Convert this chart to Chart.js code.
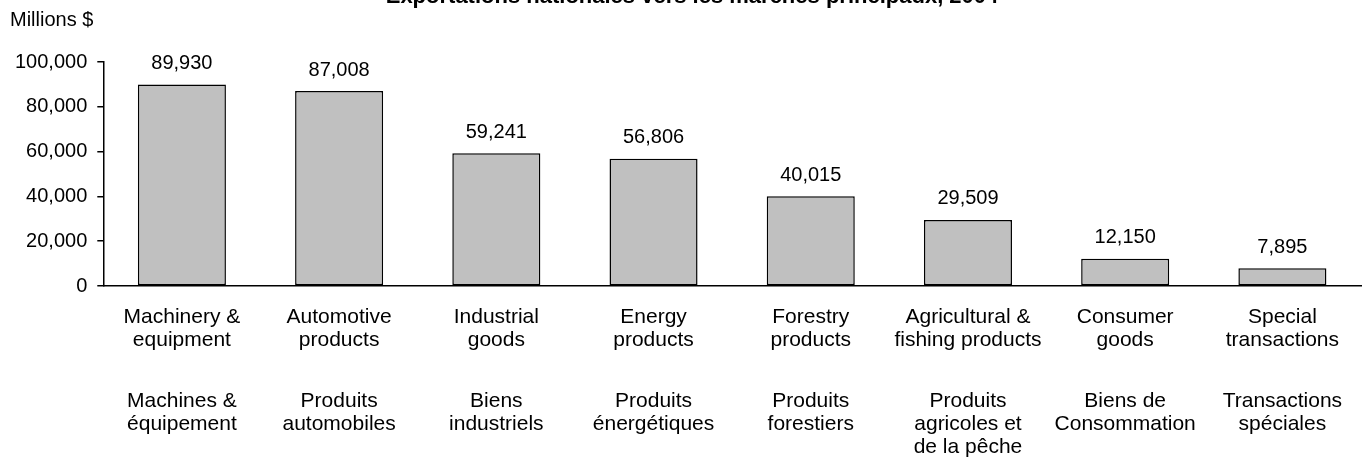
<!DOCTYPE html>
<html lang="en">
<head>
<meta charset="utf-8">
<script src="https://cdn.jsdelivr.net/npm/chart.js@4/dist/chart.umd.min.js"></script>
<style>
  html, body { margin: 0; padding: 0; background: #fff; }
  #wrap { width: 1362px; height: 468px; }
</style>
</head>
<body>
<div id="wrap"><canvas id="chart"></canvas></div>
<script>
var title = 'Exportations nationales vers les marchés principaux, 2004';
var unitLabel = 'Millions $';
var labelsEn = [
  ['Machinery &', 'equipment'],
  ['Automotive', 'products'],
  ['Industrial', 'goods'],
  ['Energy', 'products'],
  ['Forestry', 'products'],
  ['Agricultural &', 'fishing products'],
  ['Consumer', 'goods'],
  ['Special', 'transactions']
];
var labelsFr = [
  ['Machines &', 'équipement'],
  ['Produits', 'automobiles'],
  ['Biens', 'industriels'],
  ['Produits', 'énergétiques'],
  ['Produits', 'forestiers'],
  ['Produits', 'agricoles et', 'de la pêche'],
  ['Biens de', 'Consommation'],
  ['Transactions', 'spéciales']
];
var exportsValues = [89930, 87008, 59241, 56806, 40015, 29509, 12150, 7895];

var fontFamily = '"Liberation Sans", Arial, sans-serif';

var extras = {
  id: 'extras',
  afterDatasetsDraw: function (chart) {
    var ctx = chart.ctx;
    var meta = chart.getDatasetMeta(0);
    var xScale = chart.scales.x;
    ctx.save();
    ctx.fillStyle = '#000';
    ctx.textAlign = 'center';

    // value labels over bars
    ctx.font = '20px ' + fontFamily;
    ctx.textBaseline = 'middle';
    meta.data.forEach(function (bar, i) {
      ctx.fillText(exportsValues[i].toLocaleString('en-US'), bar.x, bar.y - 21);
    });

    // french category names
    ctx.font = '21px ' + fontFamily;
    labelsFr.forEach(function (lines, i) {
      var x = xScale.getPixelForValue(i);
      lines.forEach(function (line, j) {
        ctx.fillText(line, x, 401 + j * 23);
      });
    });

    // title, cut at the top edge
    ctx.font = 'bold 22px ' + fontFamily;
    ctx.textBaseline = 'alphabetic';
    ctx.fillText(title, 692, 3);

    // unit label
    ctx.font = '20px ' + fontFamily;
    ctx.textAlign = 'left';
    ctx.textBaseline = 'middle';
    ctx.fillText(unitLabel, 10, 20);
    ctx.restore();
  }
};

new Chart(document.getElementById('chart'), {
  type: 'bar',
  data: {
    labels: labelsEn,
    datasets: [{
      data: exportsValues,
      backgroundColor: '#c0c0c0',
      borderColor: '#000',
      borderWidth: 1.5,
      borderSkipped: false,
      barPercentage: 0.56,
      categoryPercentage: 1
    }]
  },
  options: {
    responsive: true,
    maintainAspectRatio: false,
    animation: false,
    layout: { padding: { top: 62, left: 5, right: 1, bottom: 96 } },
    plugins: {
      legend: { display: false },
      tooltip: { enabled: false }
    },
    scales: {
      x: {
        grid: { display: false, drawTicks: false },
        border: { color: '#000', width: 1.5 },
        ticks: {
          color: '#000',
          padding: 20,
          maxRotation: 0,
          autoSkip: false,
          font: { family: fontFamily, size: 21, lineHeight: 1.095 }
        }
      },
      y: {
        min: 0,
        max: 100000,
        grid: { drawOnChartArea: false, drawTicks: true, tickLength: 6, color: '#000', lineWidth: 1.5 },
        border: { color: '#000', width: 1.5 },
        ticks: {
          stepSize: 20000,
          color: '#000',
          padding: 10,
          font: { family: fontFamily, size: 20 },
          callback: function (v) { return v.toLocaleString('en-US'); }
        }
      }
    }
  },
  plugins: [extras]
});
</script>
</body>
</html>
